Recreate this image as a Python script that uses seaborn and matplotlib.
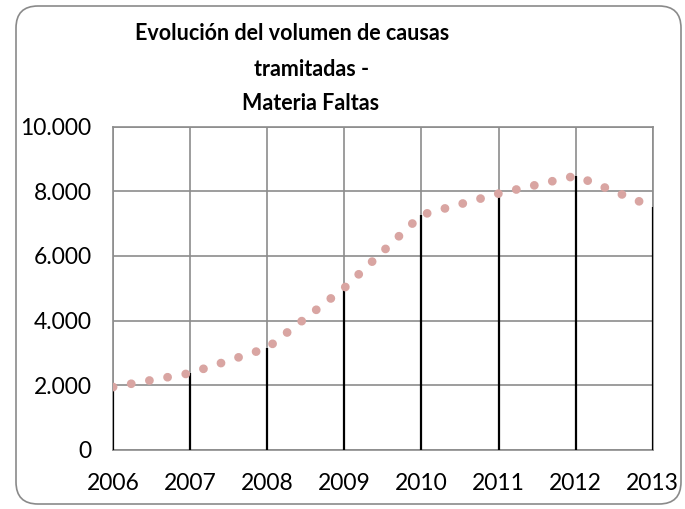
import matplotlib
matplotlib.use("Agg")
import matplotlib.pyplot as plt
from matplotlib.patches import FancyBboxPatch
import numpy as np
import pandas as pd
import seaborn as sns

years = [2006, 2007, 2008, 2009, 2010, 2011, 2012, 2013]
causas = [1940, 2370, 3150, 5010, 7270, 7930, 8480, 7520]
yticks = [0, 2000, 4000, 6000, 8000, 10000]
ytick_labels = ["0", "2.000", "4.000", "6.000", "8.000", "10.000"]
title_lines = ["Evolución del volumen de causas", "tramitadas -", "Materia Faltas"]

df = pd.DataFrame({"year": years, "causas": causas})

sns.set_style("white")
plt.rcParams["font.family"] = ["Lato", "DejaVu Sans"]

grid_col = "#8c8c8c"
fig = plt.figure(figsize=(6.85, 5.09), dpi=100)
ax = fig.add_axes([0.165, 0.1165, 0.788, 0.6345])

# drop lines from the axis to each point
ax.vlines(df["year"], 0, df["causas"], color="black", linewidth=1.6, zorder=3)

# dotted series line
sns.lineplot(data=df, x="year", y="causas", ax=ax, color="#d9a5a2",
             linewidth=6.3, linestyle=(0, (0.01, 2.1)),
             dash_capstyle="round", zorder=4)

ax.set_xlim(2006, 2013)
ax.set_ylim(0, 10000)
ax.set_xticks(years)
ax.set_xticklabels([str(y) for y in years])
ax.set_yticks(yticks)
ax.set_yticklabels(ytick_labels)
ax.set_xlabel("")
ax.set_ylabel("")
ax.grid(True, color=grid_col, linewidth=1.2)
for s in ax.spines.values():
    s.set_color(grid_col)
    s.set_linewidth(1.2)
ax.tick_params(axis="both", direction="out", length=5.5, width=1.2,
               color=grid_col, labelsize=16.5, labelcolor="black")
ax.tick_params(axis="y", pad=10)
ax.tick_params(axis="x", pad=11)
ax.set_axisbelow(True)

# title, one centred line at a time
for txt, xc, yc in zip(title_lines, [292, 312, 311], [33, 69, 103]):
    fig.text(xc / 685, 1 - yc / 509, txt, ha="center", va="center",
             fontsize=15.5, fontweight="bold", color="black")

# rounded chart border
border = FancyBboxPatch((0.16, 0.05), 6.65, 4.98,
                        boxstyle="round,pad=0,rounding_size=0.22",
                        transform=fig.dpi_scale_trans, fill=False,
                        edgecolor="#8a8a8a", linewidth=1.2)
fig.patches.append(border)

fig.savefig("out.png", dpi=100)
